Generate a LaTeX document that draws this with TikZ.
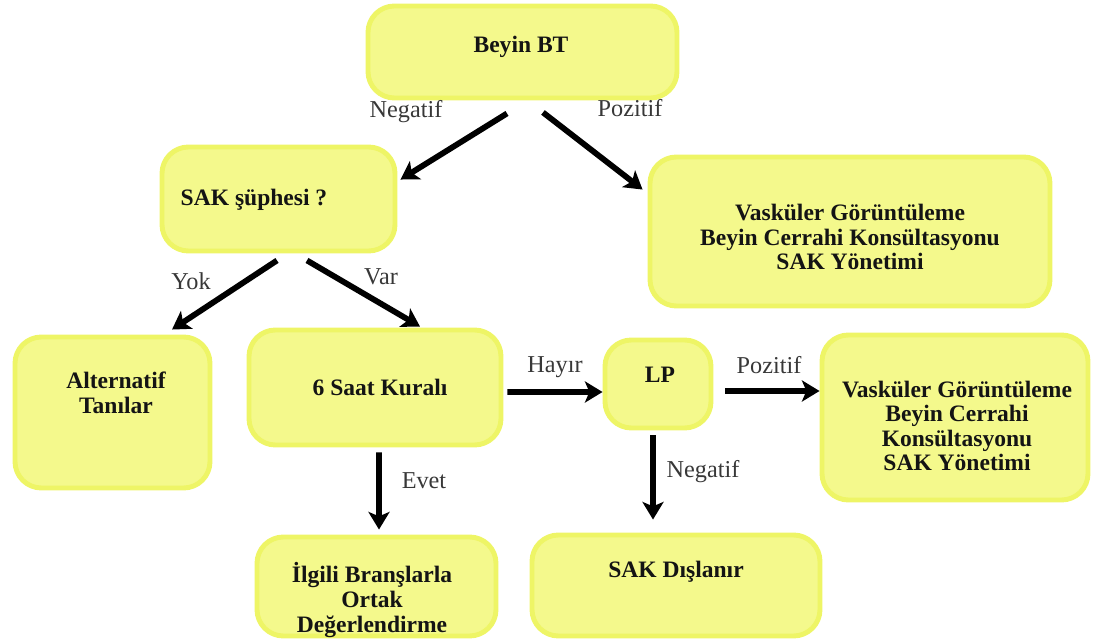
\documentclass[tikz,border=0pt]{standalone}
\usepackage{fontspec}
\setmainfont{Liberation Serif}
\usetikzlibrary{calc,arrows.meta}
\definecolor{boxfill}{HTML}{F4F98C}
\definecolor{boxline}{HTML}{EEF566}
\tikzset{
  box/.style={draw=boxline, line width=2.8pt, fill=boxfill, rounded corners=15pt, inner sep=0pt},
  btext/.style={font=\fontsize{13.4}{14}\selectfont\bfseries, align=center, text=black!92},
  lab/.style={font=\fontsize{13.8}{15}\selectfont, text=black!78, inner sep=0pt},
  arr/.style={line width=3.3pt, -{Stealth[length=10pt,width=12pt,inset=2.5pt]}}
}
\begin{document}
\begin{tikzpicture}[x=0.02cm,y=-0.02cm]
\useasboundingbox (0,0) rectangle (1096,644);
% boxes
\node[box, minimum width=309*0.02cm, minimum height=92*0.02cm] (bt) at (522.5,52) {};
\node[box, minimum width=233*0.02cm, minimum height=104*0.02cm] (sak) at (278.5,199) {};
\node[box, minimum width=400*0.02cm, minimum height=149*0.02cm] (vas1) at (850,231.5) {};
\node[box, minimum width=195*0.02cm, minimum height=151*0.02cm] (alt) at (112.5,412.5) {};
\node[box, minimum width=252*0.02cm, minimum height=115*0.02cm] (six) at (375,387.5) {};
\node[box, minimum width=106*0.02cm, minimum height=88*0.02cm] (lp) at (658,384) {};
\node[box, minimum width=266*0.02cm, minimum height=165*0.02cm] (vas2) at (955,417.5) {};
\node[box, minimum width=239*0.02cm, minimum height=99*0.02cm] (ilg) at (376.5,586.5) {};
\node[box, minimum width=288*0.02cm, minimum height=101*0.02cm] (dis) at (676,585.5) {};
% texts
\node[btext] (tbt) at (521,47) {Beyin BT};
\node[btext] (tsak) at (254,200) {SAK şüphesi ?};
\node[btext] (tvas1) at (850,237) {Vasküler Görüntüleme\\Beyin Cerrahi Konsültasyonu\\SAK Yönetimi};
\node[btext] (talt) at (116,393) {Alternatif\\Tanılar};
\node[btext] (tsix) at (380,387) {6 Saat Kuralı};
\node[btext] (tlp) at (660,375) {LP};
\node[btext] (tvas2) at (957,426) {Vasküler Görüntüleme\\Beyin Cerrahi\\Konsültasyonu\\SAK Yönetimi};
\node[btext] (tilg) at (372,600) {İlgili Branşlarla\\Ortak\\Değerlendirme};
\node[btext] (tdis) at (676,572) {SAK Dışlanır};
% arrows
\draw[arr] ($(bt.south)+(-15.5,13)$) -- ($(sak.north east)+(3,35)$);
\draw[arr] ($(bt.south)+(20.5,12)$) -- ($(vas1.north west)+(-5,35)$);
\draw[arr] ($(sak.south)+(-1.5,7)$) -- ($(alt.north)+(59.5,-5)$);
\draw[arr] ($(sak.south)+(28.5,7)$) -- ($(six.north)+(45,-1)$);
\draw[arr] ($(six.east)+(4,4.5)$) -- ($(lp.west)+(0,8)$);
\draw[arr] ($(lp.east)+(12,7)$) -- ($(vas2.west)+(0,-26.5)$);
\draw[arr] ($(six.south)+(4,5)$) -- ($(ilg.north)+(2.5,-5)$);
\draw[arr] ($(lp.south)+(-5,5)$) -- ($(dis.north)+(-23,-13)$);
% labels
\node[lab] (l1) at (406,112) {Negatif};
\node[lab] (l2) at (630,108) {Pozitif};
\node[lab] (l3) at (191,281) {Yok};
\node[lab] (l4) at (381,277) {Var};
\node[lab] (l5) at (555,367) {Hayır};
\node[lab] (l6) at (769,365) {Pozitif};
\node[lab] (l7) at (424,481) {Evet};
\node[lab] (l8) at (703,472) {Negatif};
\end{tikzpicture}
\end{document}
